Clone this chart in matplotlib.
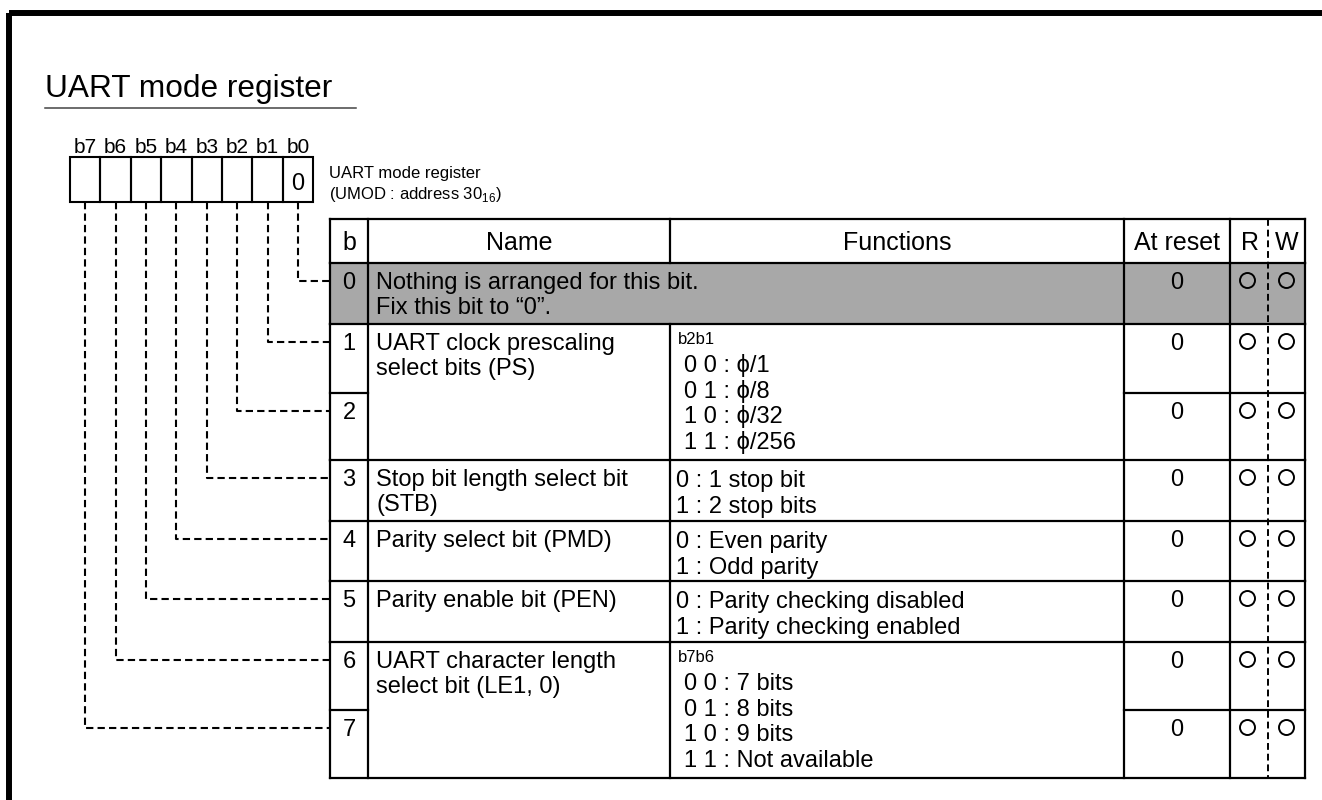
# uart_umod.py
# UART mode register (UMOD) bit map, drawn in pixel coordinates

import matplotlib.pyplot as plt
from matplotlib.patches import Rectangle

plt.rcParams['font.family'] = ['Liberation Sans', 'DejaVu Sans']
plt.rcParams['mathtext.fontset'] = 'custom'
plt.rcParams['mathtext.rm'] = 'Liberation Sans'

# ---- content ----
title = "UART mode register"
reg_name = ["UART mode register", "(UMOD : address 30$_{\\mathregular{16}}$)"]
bit_labels = ["b7", "b6", "b5", "b4", "b3", "b2", "b1", "b0"]
box_values = ["", "", "", "", "", "", "", "0"]
headers = ["b", "Name", "Functions", "At reset", "R", "W"]

group_bits = [[0], [1, 2], [3], [4], [5], [6, 7]]
group_names = [
    ["Nothing is arranged for this bit.", "Fix this bit to \u201c0\u201d."],
    ["UART clock prescaling", "select bits (PS)"],
    ["Stop bit length select bit", "(STB)"],
    ["Parity select bit (PMD)"],
    ["Parity enable bit (PEN)"],
    ["UART character length", "select bit (LE1, 0)"],
]
group_sub = [None, "b2b1", None, None, None, "b7b6"]
group_funcs = [
    [],
    ["0 0 : \u03d5/1", "0 1 : \u03d5/8", "1 0 : \u03d5/32", "1 1 : \u03d5/256"],
    ["0 : 1 stop bit", "1 : 2 stop bits"],
    ["0 : Even parity", "1 : Odd parity"],
    ["0 : Parity checking disabled", "1 : Parity checking enabled"],
    ["0 0 : 7 bits", "0 1 : 8 bits", "1 0 : 9 bits", "1 1 : Not available"],
]
group_shaded = [True, False, False, False, False, False]
reset_values = ["0", "0", "0", "0", "0", "0", "0", "0"]
readable = [True] * 8
writable = [True] * 8

# ---- layout (pixels) ----
W, H = 1322, 800
col_x = [330, 368, 670, 1124, 1230, 1305]
rw_split = 1268
head_top, head_bot = 219, 263
row_y = [263, 324, 393, 460, 521, 581, 642, 710, 778]
box_x0, box_w, box_top, box_bot = 70, 30.4, 157, 202

FS = 17
LW = 1.6
DASH = (0, (3.5, 2))

fig = plt.figure(figsize=(W / 100, H / 100), dpi=100)
ax = fig.add_axes([0, 0, 1, 1])
ax.set_xlim(0, W)
ax.set_ylim(H, 0)
ax.axis('off')

# outer frame
ax.add_patch(Rectangle((9, 12.5), W + 40, H + 40, fill=False, lw=4.3, ec='black'))

# title
ax.text(45, 97, title, fontsize=22.8, va='baseline', ha='left')
ax.plot([45, 356], [107.5, 107.5], color='#444444', lw=1.1)

# register boxes
for i, (lab, val) in enumerate(zip(bit_labels, box_values)):
    x = box_x0 + i * box_w
    ax.add_patch(Rectangle((x, box_top), box_w, box_bot - box_top, fill=False, lw=1.5, ec='black'))
    ax.text(x + box_w / 2, 153, lab, fontsize=15, ha='center', va='baseline')
    if val:
        ax.text(x + box_w / 2, 190, val, fontsize=FS, ha='center', va='baseline')

ax.text(329, 178, reg_name[0], fontsize=12, va='baseline')
ax.text(329, 199, reg_name[1], fontsize=12, va='baseline')

# shaded rows
for bits, shaded in zip(group_bits, group_shaded):
    if shaded:
        ax.add_patch(Rectangle((col_x[0], row_y[bits[0]]), col_x[-1] - col_x[0],
                               row_y[bits[-1] + 1] - row_y[bits[0]], fc='#a8a8a8', ec='none'))

# header
hx = [(col_x[0] + col_x[1]) / 2, (col_x[1] + col_x[2]) / 2, (col_x[2] + col_x[3]) / 2,
      (col_x[3] + col_x[4]) / 2, (col_x[4] + rw_split) / 2 + 1, (rw_split + col_x[5]) / 2]
for x, h in zip(hx, headers):
    ax.text(x, 250, h, fontsize=18, ha='center', va='baseline')

hline = dict(color='black', lw=LW, solid_capstyle='projecting')
ax.plot([col_x[0], col_x[-1]], [head_top, head_top], **hline)
ax.plot([col_x[0], col_x[-1]], [head_bot, head_bot], **hline)
for x in col_x:
    ax.plot([x, x], [head_top, head_bot], **hline)

# table body
for bits, names, sub, funcs, shaded in zip(group_bits, group_names, group_sub,
                                           group_funcs, group_shaded):
    top, bot = row_y[bits[0]], row_y[bits[-1] + 1]
    ax.plot([col_x[0], col_x[-1]], [bot, bot], **hline)
    for x in col_x:
        if shaded and x == col_x[2]:
            continue
        ax.plot([x, x], [top, bot], **hline)
    # split b / reset / RW cells for multi-bit groups
    for b in bits[1:]:
        ax.plot([col_x[0], col_x[1]], [row_y[b], row_y[b]], **hline)
        ax.plot([col_x[3], col_x[5]], [row_y[b], row_y[b]], **hline)

    for k, line in enumerate(names):
        ax.text(376, top + 26 + k * 25, line, fontsize=FS, va='baseline')
    if sub:
        ax.text(678, top + 20, sub, fontsize=12, va='baseline')
        for k, line in enumerate(funcs):
            ax.text(684, top + 48 + k * 25.7, line, fontsize=FS, va='baseline')
    else:
        for k, line in enumerate(funcs):
            ax.text(676, top + 27 + k * 26, line, fontsize=FS, va='baseline')

# per-bit cells and leader lines
for b in range(8):
    top = row_y[b]
    ax.text(hx[0], top + 26, str(b), fontsize=FS, ha='center', va='baseline')
    ax.text(hx[3], top + 26, reset_values[b], fontsize=FS, ha='center', va='baseline')
    if readable[b]:
        ax.plot(1247, top + 17, 'o', ms=10.8, mfc='none', mec='black', mew=1.4)
    if writable[b]:
        ax.plot(1286, top + 17, 'o', ms=10.8, mfc='none', mec='black', mew=1.4)
    cx = box_x0 + (7 - b) * box_w + box_w / 2
    ly = top + 18
    ax.plot([cx, cx, col_x[0]], [box_bot, ly, ly], color='black', lw=1.5, ls=DASH)

# R/W divider
ax.plot([rw_split, rw_split], [head_top, row_y[-1]], color='black', lw=1.4, ls=DASH)

fig.savefig('out.png', dpi=100)
